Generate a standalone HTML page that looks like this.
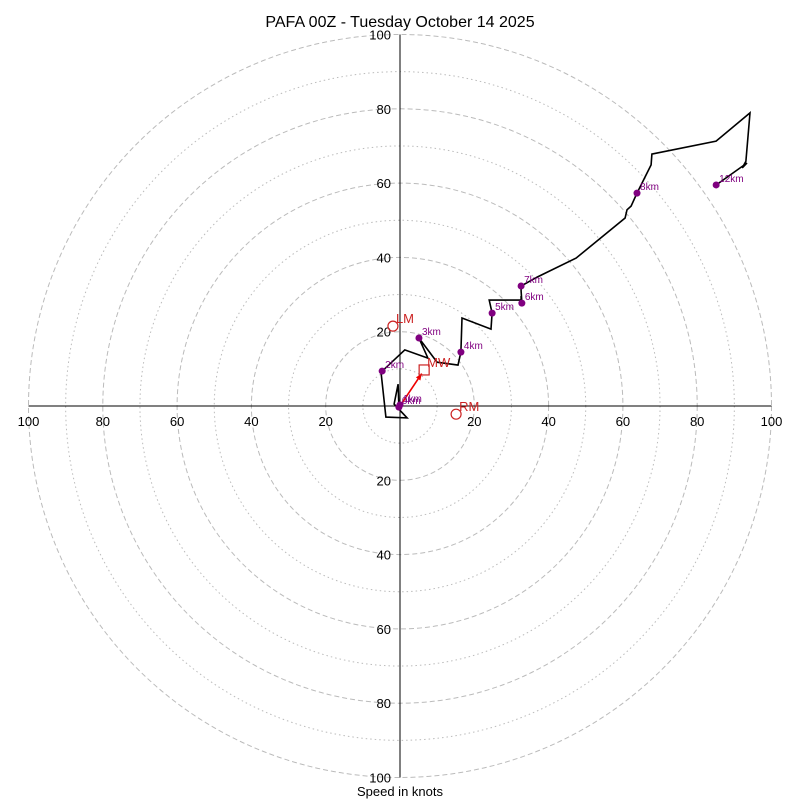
<!DOCTYPE html>
<html><head><meta charset="utf-8"><style>
html,body{margin:0;padding:0;background:#fff;}
svg{display:block;font-family:"Liberation Sans","DejaVu Sans",sans-serif;}
</style></head><body>
<svg id="chart" width="800" height="800" viewBox="0 0 800 800">
<text x="400" y="27" text-anchor="middle" font-size="16">PAFA 00Z - Tuesday October 14 2025</text>
<g id="rings"></g>
<g id="axes"></g>
<g id="series"></g>
<text x="400" y="796" text-anchor="middle" font-size="13">Speed in knots</text>
</svg>
<script>
const ringSpeeds = [10,20,30,40,50,60,70,80,90,100];
const tickLabels = [20,40,60,80,100];
const windU = [-0.3,-0.5,-1.6,1.9,-3.8,-5.1,-4.8,1.3,7.5,5.1,10.0,15.6,16.4,16.7,24.5,24.8,24.0,32.6,32.6,32.8,32.6,32.6,36.9,47.4,60.6,61.1,62.2,63.8,67.6,67.8,85.1,94.2,93.1,92.1,93.4,85.1];
const windV = [-0.3,5.9,0.5,-3.2,-3.0,8.9,9.4,15.1,12.9,18.3,11.8,11.0,14.5,23.7,20.7,25.0,28.5,28.5,29.6,27.7,31.0,32.3,34.7,39.8,50.6,52.8,53.8,57.3,64.9,67.8,71.3,78.9,65.9,64.1,65.4,59.5];
const heightLabels = ["0km","1km","2km","3km","4km","5km","6km","7km","8km","12km"];
const heightU = [-0.3,0.0,-4.8,5.1,16.4,24.8,32.8,32.6,63.8,85.1];
const heightV = [-0.3,0.3,9.4,18.3,14.5,25.0,27.7,32.3,57.3,59.5];
const motionLabels = ["LM","RM","MW"];
const motionU = [-1.9,15.1,6.5];
const motionV = [21.5,-2.2,9.7];

const NS="http://www.w3.org/2000/svg";
const cx=400, cy=406, k=3.715;
const sx=u=>cx+u*k, sy=v=>cy-v*k;
function mk(tag,attrs,parent){const e=document.createElementNS(NS,tag);for(const a in attrs)e.setAttribute(a,attrs[a]);parent.appendChild(e);return e;}
const rings=document.getElementById('rings'), axes=document.getElementById('axes'), series=document.getElementById('series');

ringSpeeds.forEach(s=>{
  const c=mk('circle',{cx:cx,cy:cy,r:s*k,fill:'none',stroke:'#bbb','stroke-width':1,'stroke-dasharray':s%20===0?'5,3':'1.5,3'},rings);
  
  
});
let l=mk('line',{x1:sx(-100),y1:cy,x2:sx(100),y2:cy,stroke:'#000','stroke-width':1},axes);


l=mk('line',{x1:cx,y1:sy(100),x2:cx,y2:sy(-100),stroke:'#000','stroke-width':1},axes);


tickLabels.forEach(t=>{
  [1,-1].forEach(sg=>{
    let tx=mk('text',{x:sx(sg*t),y:cy+20,'text-anchor':'middle','font-size':13},axes);
    tx.textContent=t;
    
    
    let ty=mk('text',{x:cx-9,y:sy(sg*t)+5,'text-anchor':'end','font-size':13},axes);
    ty.textContent=t;
    
    
  });
});

const pts=windU.map((u,i)=>sx(u).toFixed(1)+','+sy(windV[i]).toFixed(1)).join(' ');
const pl=mk('polyline',{points:pts,fill:'none',stroke:'#000','stroke-width':1.6,'stroke-linejoin':'miter'},series);



const mwI=2;
const ax2=sx(motionU[mwI]*0.9), ay2=sy(motionV[mwI]*0.9);
const ar=mk('line',{x1:cx,y1:cy,x2:ax2,y2:ay2,stroke:'#e00','stroke-width':1.6},series);


const ang=Math.atan2(ay2-cy,ax2-cx);
const hp=[[ax2,ay2],[ax2-7*Math.cos(ang-0.4),ay2-7*Math.sin(ang-0.4)],[ax2-7*Math.cos(ang+0.4),ay2-7*Math.sin(ang+0.4)]];
const ah=mk('polygon',{points:hp.map(p=>p.join(',')).join(' '),fill:'#e00'},series);



heightLabels.forEach((lab,i)=>{
  const d=mk('circle',{cx:sx(heightU[i]),cy:sy(heightV[i]),r:3.5,fill:'#800080'},series);
  
  
  const t=mk('text',{x:sx(heightU[i])+3,y:sy(heightV[i])-3,'font-size':10,fill:'#800080'},series);
  t.textContent=lab;
  
  
});

motionLabels.forEach((lab,i)=>{
  const x=sx(motionU[i]), y=sy(motionV[i]);
  let m;
  if(lab==='MW') m=mk('rect',{x:x-5,y:y-5,width:10,height:10,fill:'none',stroke:'#c22','stroke-width':1.2},series);
  else m=mk('circle',{cx:x,cy:y,r:5,fill:'none',stroke:'#c22','stroke-width':1.2},series);
  
  
  const t=mk('text',{x:x+3,y:y-3,'font-size':13,fill:'#c22'},series);
  t.textContent=lab;
  
  
});
</script>
</body></html>
